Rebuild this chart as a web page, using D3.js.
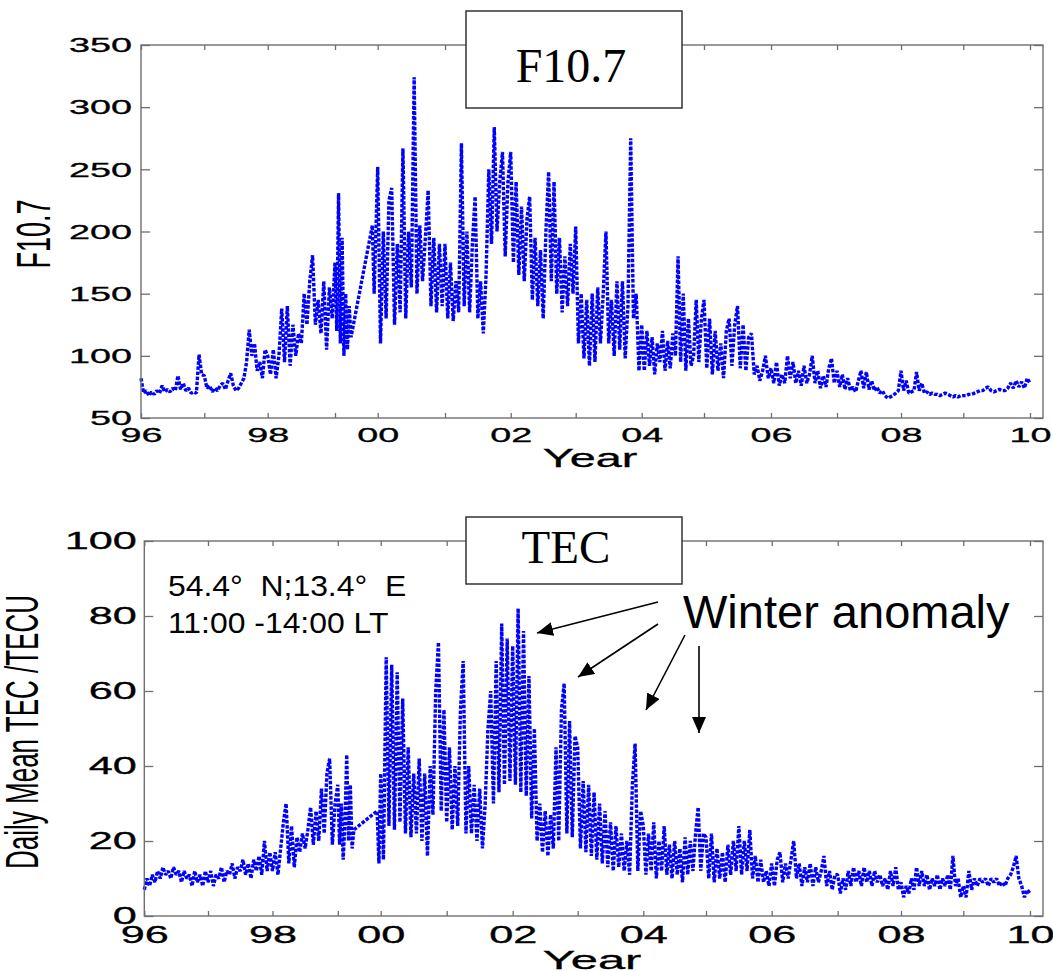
<!DOCTYPE html>
<html lang="en">
<head>
  <meta charset="UTF-8">
  <title>F10.7 and TEC</title>
  <style>
    body { margin: 0; background: #fff; }
    text { font-family: "Liberation Sans", Arial, sans-serif; }
  </style>
</head>
<body>
  <script src="https://d3js.org/d3.v7.min.js"></script>
  <script>
    // ---- data (half-month samples) ----
    const tickYears = d3.range(1996, 2011);
    const f107Ticks = [50, 100, 150, 200, 250, 300, 350];
    const tecTicks = [0, 20, 40, 60, 80, 100];

    const step = 1 / 24;
    // there is a data gap in mid/late 1999, the line just joins across it
    const f107StartA = 1996;
    const f107StartB = 1999 + 21 / 24;
    const tecStartA = 1996;
    const tecStartB = 1999 + 22 / 24;

    const f107A = [
      82, 70, 72, 68, 71, 69, 72, 70, 76, 71, 73, 71, 74, 72, 84, 73, 78, 72, 74, 70, 71, 70, 101, 85,       // 1996
      84, 74, 76, 71, 74, 72, 76, 78, 73, 80, 86, 76, 72, 74, 78, 82, 95, 121, 100, 110, 88, 95, 82, 105,    // 1997
      100, 85, 105, 82, 100, 138, 95, 140, 92, 125, 100, 118, 110, 150, 125, 160, 181, 125, 145, 118, 160, 105, 155, 130, // 1998
      175, 120, 231, 110, 195, 100, 150, 105, 140, 115                                                       // 1999 (to gap)
    ];
    const f107B = [
      205, 150, 200,                                                                                          // end 1999
      252, 110, 200, 130, 225, 235, 125, 190, 135, 267, 130, 200, 155, 324, 150, 205, 160, 195, 233, 140, 195, 135, 190, 140, // 2000
      190, 130, 175, 128, 160, 135, 271, 140, 200, 135, 190, 228, 130, 160, 118, 165, 250, 190, 284, 200, 240, 264, 180, 240, // 2001
      264, 175, 240, 165, 220, 160, 210, 228, 145, 195, 140, 185, 130, 200, 248, 160, 240, 150, 195, 135, 180, 140, 190, 150, // 2002
      204, 110, 150, 98, 145, 92, 150, 95, 155, 110, 150, 200, 110, 145, 100, 160, 105, 160, 98, 140, 275, 130, 150, 88,     // 2003
      125, 88, 120, 92, 115, 85, 110, 95, 120, 88, 112, 90, 118, 100, 180, 95, 150, 88, 130, 92, 100, 145, 95, 130,          // 2004
      145, 90, 130, 85, 120, 88, 110, 82, 120, 130, 92, 125, 140, 90, 125, 88, 115, 118, 85, 92, 80, 88, 100, 82,            // 2005
      90, 78, 95, 76, 85, 78, 100, 82, 95, 78, 88, 76, 92, 78, 85, 100, 78, 88, 74, 84, 75, 90, 98, 78,                      // 2006
      88, 75, 85, 73, 82, 72, 75, 71, 80, 88, 74, 87, 73, 80, 72, 75, 70, 72, 68, 66, 67, 68, 70, 72,                        // 2007
      88, 72, 80, 70, 71, 72, 87, 72, 78, 70, 71, 69, 70, 69, 69, 68, 69, 70, 69, 68, 67, 68, 67, 68,                        // 2008
      68, 68, 69, 69, 70, 71, 72, 72, 74, 75, 72, 71, 72, 73, 72, 72, 74, 78, 74, 80, 75, 79, 74, 82,                        // 2009
      78                                                                                                      // 2010
    ];

    const tecA = [
      7, 10, 8, 11, 9, 12, 10, 13, 11, 12, 10, 13, 11, 12, 9, 12, 10, 11, 8, 12, 9, 11, 8, 12,        // 1996
      9, 12, 8, 11, 10, 13, 9, 12, 11, 14, 10, 13, 12, 15, 11, 14, 10, 15, 12, 16, 11, 20, 12, 17,    // 1997
      12, 17, 11, 18, 25, 30, 14, 24, 13, 21, 17, 22, 18, 23, 29, 19, 28, 20, 34, 22, 38, 42, 19, 30, // 1998
      35, 19, 30, 15, 25, 43, 20, 35, 18, 23                                                          // 1999 (to gap)
    ];
    const tecB = [
      28, 14,                                                                                         // end 1999
      38, 15, 69, 24, 67, 23, 65, 25, 58, 22, 45, 21, 38, 22, 42, 20, 38, 16, 40, 27, 60, 73, 28, 55, // 2000
      25, 45, 23, 40, 24, 55, 68, 22, 40, 22, 35, 20, 34, 18, 30, 50, 60, 30, 68, 33, 78, 35, 74, 36, // 2001
      72, 35, 82, 33, 76, 32, 64, 26, 50, 20, 30, 17, 28, 16, 27, 18, 45, 20, 55, 62, 22, 52, 21, 48, // 2002
      45, 18, 36, 17, 35, 16, 33, 15, 30, 14, 28, 13, 25, 12, 24, 13, 22, 12, 20, 11, 35, 46, 12, 28, // 2003
      24, 11, 22, 12, 25, 10, 20, 12, 24, 11, 19, 10, 20, 11, 18, 9, 21, 11, 20, 12, 22, 29, 12, 22,  // 2004
      21, 10, 22, 9, 18, 10, 17, 9, 19, 11, 20, 12, 24, 11, 20, 12, 23, 10, 16, 9, 15, 9, 12, 8,      // 2005
      14, 8, 15, 17, 9, 14, 10, 15, 20, 10, 14, 8, 13, 9, 14, 8, 13, 9, 12, 16, 8, 12, 7, 11,         // 2006
      11, 6, 10, 7, 12, 8, 13, 9, 12, 8, 13, 9, 12, 8, 12, 9, 11, 8, 10, 7, 12, 8, 13, 7,             // 2007
      9, 5, 8, 6, 10, 7, 13, 8, 12, 8, 11, 7, 10, 8, 11, 7, 10, 8, 11, 7, 16, 8, 10, 5,               // 2008
      8, 5, 12, 7, 10, 8, 10, 9, 10, 8, 10, 9, 10, 8, 9, 8, 10, 11, 13, 16, 10, 8, 5, 7,              // 2009
      6                                                                                               // 2010
    ];

    const toPoints = (start, vals) => vals.map((v, i) => ({ t: start + i * step, v }));
    const f107Series = toPoints(f107StartA, f107A).concat(toPoints(f107StartB, f107B));
    const tecSeries = toPoints(tecStartA, tecA).concat(toPoints(tecStartB, tecB));

    // ---- layout ----
    const axisColor = '#6f6f6f';
    const svg = d3.select('body').append('svg')
      .attr('width', 1053)
      .attr('height', 972);

    const defs = svg.append('defs');
    defs.append('marker')
      .attr('id', 'head')
      .attr('markerUnits', 'userSpaceOnUse')
      .attr('markerWidth', 16).attr('markerHeight', 14)
      .attr('refX', 16).attr('refY', 7)
      .attr('orient', 'auto')
      .append('path')
      .attr('d', 'M0,0 L16,7 L0,14 Z')
      .attr('fill', '#000');

    function drawPanel(p) {
      // the year axis in the figure is not evenly spaced (99-00 is squeezed)
      const x = d3.scaleLinear().domain(tickYears).range(p.xPx);
      const y = d3.scaleLinear().domain(p.yDomain).range([p.bottom, p.top]);
      const g = svg.append('g');

      const line = d3.line().x(d => x(d.t)).y(d => y(d.v));
      g.append('path')
        .datum(p.series)
        .attr('fill', 'none')
        .attr('stroke', '#0000ff')
        .attr('stroke-width', 3.4)
        .attr('stroke-dasharray', '3.5 1.6')
        .attr('stroke-linejoin', 'bevel')
        .attr('d', line);

      g.append('rect')
        .attr('x', p.left).attr('y', p.top)
        .attr('width', p.right - p.left).attr('height', p.bottom - p.top)
        .attr('fill', 'none')
        .attr('stroke', axisColor)
        .attr('stroke-width', 1.4);

      const fmt = d => d % 2 === 0 ? d3.format('02d')(d % 100) : '';
      g.append('g')
        .attr('transform', `translate(0,${p.bottom})`)
        .call(d3.axisBottom(x).tickValues(tickYears).tickFormat(fmt)
          .tickSizeInner(-5).tickSizeOuter(0).tickPadding(p.xPad));
      g.append('g')
        .attr('transform', `translate(0,${p.top})`)
        .call(d3.axisTop(x).tickValues(tickYears).tickFormat(() => '')
          .tickSizeInner(-5).tickSizeOuter(0));
      g.append('g')
        .attr('transform', `translate(${p.left},0)`)
        .call(d3.axisLeft(y).tickValues(p.yTicks)
          .tickSizeInner(-9).tickSizeOuter(0).tickPadding(p.yPad));
      g.append('g')
        .attr('transform', `translate(${p.right},0)`)
        .call(d3.axisRight(y).tickValues(p.yTicks).tickFormat(() => '')
          .tickSizeInner(-9).tickSizeOuter(0));

      g.selectAll('.domain').remove();
      g.selectAll('.tick line').attr('stroke', axisColor).attr('stroke-width', 1.3);
      g.selectAll('.tick text')
        .attr('fill', '#000')
        .attr('stroke', '#000')
        .attr('stroke-width', 0.3)
        .attr('font-size', p.fontSize)
        .attr('transform', `scale(${p.stretch},1)`);

      // axis titles (matlab text is stretched sideways in the figure)
      g.append('text')
        .attr('transform', `translate(${p.xTitle[0]},${p.xTitle[1]}) scale(${p.stretch},1)`)
        .attr('text-anchor', 'middle')
        .attr('font-size', 26)
        .attr('stroke', '#000')
        .attr('stroke-width', 0.3)
        .text('Year');
      g.append('text')
        .attr('transform', `translate(${p.yTitle[0]},${p.yTitle[1]}) scale(1.8,1) rotate(-90)`)
        .attr('text-anchor', 'middle')
        .attr('font-size', p.yTitleSize)
        .text(p.yLabel);

      // title box
      g.append('rect')
        .attr('x', p.box[0]).attr('y', p.box[1])
        .attr('width', p.box[2]).attr('height', p.box[3])
        .attr('fill', '#fff')
        .attr('stroke', '#333')
        .attr('stroke-width', 1.5);
      g.append('text')
        .attr('x', p.boxText[0]).attr('y', p.boxText[1])
        .attr('text-anchor', 'middle')
        .style('font-family', '"Liberation Serif", "Times New Roman", serif')
        .attr('font-size', p.boxSize)
        .text(p.title);
    }

    drawPanel({
      series: f107Series,
      left: 141, right: 1043, top: 45, bottom: 418,
      xPx: [141, 204.3, 267.7, 335, 377.7, 445, 510.7, 575.7, 641.7, 704, 771, 837, 901, 963.3, 1030],
      yDomain: [50, 350], yTicks: f107Ticks,
      fontSize: 21, stretch: 1.8, xPad: 9, yPad: 5,
      xTitle: [590, 467], yTitle: [50, 234], yTitleSize: 27, yLabel: 'F10.7',
      box: [466, 11, 216, 97], boxText: [571, 82], boxSize: 48, title: 'F10.7'
    });

    drawPanel({
      series: tecSeries,
      left: 144.3, right: 1043, top: 541, bottom: 916,
      xPx: [144.3, 208, 272.5, 337.8, 380.7, 446.7, 512.7, 577.7, 643.3, 706, 771.7, 837.7, 901, 963.3, 1030],
      yDomain: [0, 100], yTicks: tecTicks,
      fontSize: 23, stretch: 1.88, xPad: 10.5, yPad: 4,
      xTitle: [592, 969], yTitle: [38, 732], yTitleSize: 26, yLabel: 'Daily Mean TEC /TECU',
      box: [466, 517, 216, 67], boxText: [566, 563], boxSize: 47, title: 'TEC'
    });

    // ---- annotations ----
    const note = svg.append('g').attr('transform', 'translate(168,0) scale(1.1,1)');
    note.append('text')
      .attr('y', 596)
      .attr('font-size', 29)
      .style('white-space', 'pre')
      .text('54.4°  N;13.4°  E');
    note.append('text')
      .attr('y', 633)
      .attr('font-size', 29)
      .text('11:00 -14:00 LT');

    svg.append('text')
      .attr('x', 683).attr('y', 628)
      .attr('font-size', 47)
      .text('Winter anomaly');

    const arrows = [
      [658, 602, 537, 633],
      [658, 624, 578, 677],
      [685, 635, 646, 710],
      [699, 646, 699, 733]
    ];
    svg.append('g')
      .selectAll('line')
      .data(arrows)
      .join('line')
      .attr('x1', d => d[0]).attr('y1', d => d[1])
      .attr('x2', d => d[2]).attr('y2', d => d[3])
      .attr('stroke', '#000')
      .attr('stroke-width', 1.6)
      .attr('marker-end', 'url(#head)');
  </script>
</body>
</html>
